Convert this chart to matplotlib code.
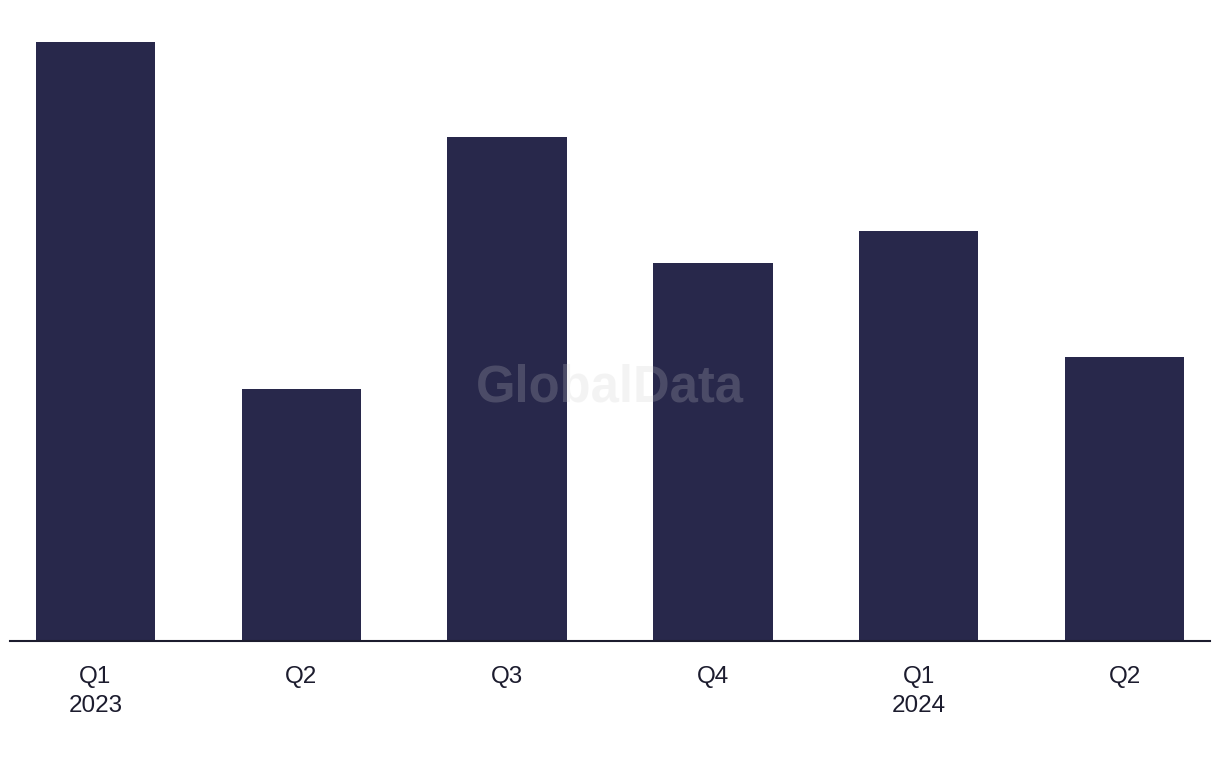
import matplotlib
matplotlib.use("Agg")
import matplotlib.pyplot as plt

categories = ["Q1\n2023", "Q2", "Q3", "Q4", "Q1\n2024", "Q2"]
values = [19, 8, 16, 12, 13, 9]

bar_color = "#28284b"
text_color = "#1c1c2e"

plt.rcParams['font.family'] = ['Liberation Sans', 'DejaVu Sans']

fig = plt.figure(figsize=(12.2, 7.68), dpi=100)
ax = fig.add_axes([10/1220, 1 - 641/768, 1200/1220, 641/768])
x = list(range(len(categories)))
ax.bar(x, values, width=0.58, color=bar_color, zorder=2)
ax.set_xlim(-0.415, 5.415)
ax.set_ylim(0, 20.33)
ax.set_xticks(x)
ax.set_xticklabels(categories, fontsize=17.5, color=text_color, linespacing=1.4)
ax.tick_params(axis='x', length=0, pad=18)
ax.set_yticks([])
for s in ["top", "right", "left"]:
    ax.spines[s].set_visible(False)
ax.spines["bottom"].set_color(text_color)
ax.spines["bottom"].set_linewidth(1.5)
ax.spines["bottom"].set_zorder(3)

fig.text(610/1220, 1 - 388/768, "GlobalData", fontsize=36.5, fontweight='bold',
         color="#cccccc", alpha=0.22, ha='center', va='center', zorder=10)

fig.savefig("out.png", dpi=100)
